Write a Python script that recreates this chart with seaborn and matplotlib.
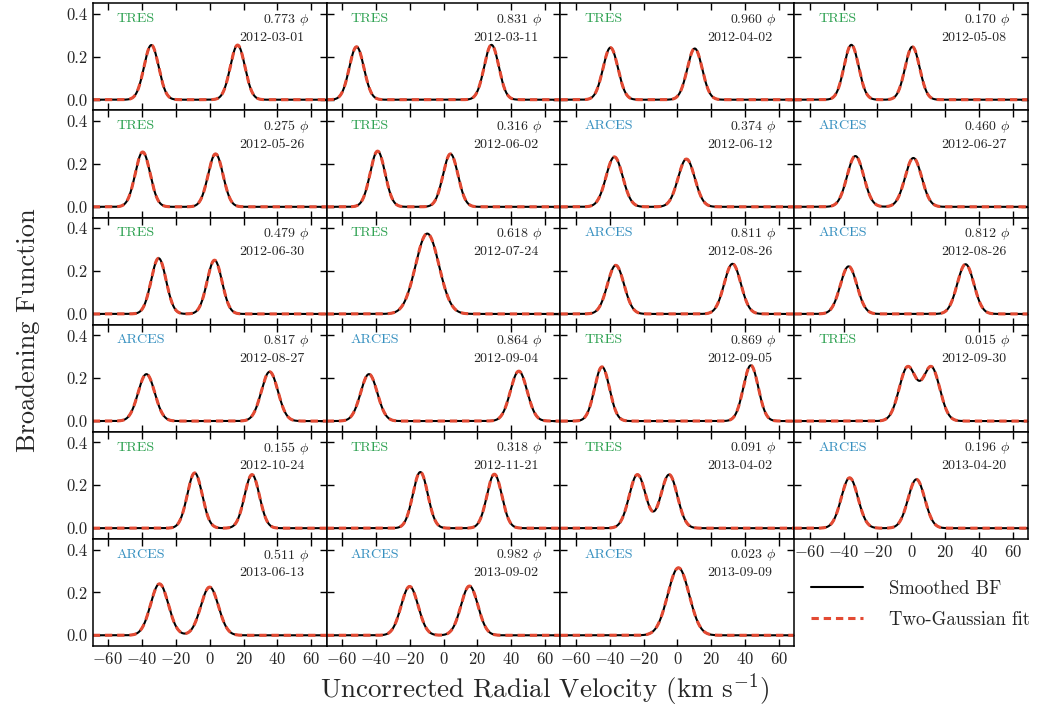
import numpy as np
import pandas as pd
import matplotlib
matplotlib.use("Agg")
import matplotlib.pyplot as plt
import seaborn as sns
from matplotlib.lines import Line2D

# ---------------- data ----------------
dates = ["2012-03-01", "2012-03-11", "2012-04-02", "2012-05-08",
         "2012-05-26", "2012-06-02", "2012-06-12", "2012-06-27",
         "2012-06-30", "2012-07-24", "2012-08-26", "2012-08-26",
         "2012-08-27", "2012-09-04", "2012-09-05", "2012-09-30",
         "2012-10-24", "2012-11-21", "2013-04-02", "2013-04-20",
         "2013-06-13", "2013-09-02", "2013-09-09"]
instruments = ["TRES", "TRES", "TRES", "TRES",
               "TRES", "TRES", "ARCES", "ARCES",
               "TRES", "TRES", "ARCES", "ARCES",
               "ARCES", "ARCES", "TRES", "TRES",
               "TRES", "TRES", "TRES", "ARCES",
               "ARCES", "ARCES", "ARCES"]
phases = ["0.773", "0.831", "0.960", "0.170",
          "0.275", "0.316", "0.374", "0.460",
          "0.479", "0.618", "0.811", "0.812",
          "0.817", "0.864", "0.869", "0.015",
          "0.155", "0.318", "0.091", "0.196",
          "0.511", "0.982", "0.023"]
rv1 = [-34.4, -51.3, -39.5, -35.4,
       -39.5, -38.9, -37.2, -33.0,
       -30.1, -9.6, -36.4, -37.0,
       -37.3, -44.0, -44.5, -2.2,
       -8.8, -13.7, -23.6, -36.4,
       -29.6, -20.0, 0.6]
rv2 = [16.5, 28.3, 10.2, 0.6,
       3.5, 4.1, 5.3, 1.2,
       2.9, -9.6, 32.5, 32.0,
       35.4, 44.4, 43.3, 11.8,
       25.0, 30.0, -4.9, 3.0,
       0.0, 15.3, 0.6]
amp1 = [0.255, 0.247, 0.243, 0.256,
        0.256, 0.260, 0.233, 0.237,
        0.260, 0.190, 0.227, 0.222,
        0.219, 0.219, 0.253, 0.250,
        0.258, 0.262, 0.250, 0.235,
        0.240, 0.228, 0.160]
amp2 = [0.255, 0.256, 0.239, 0.247,
        0.247, 0.247, 0.223, 0.228,
        0.251, 0.185, 0.234, 0.232,
        0.230, 0.233, 0.260, 0.250,
        0.250, 0.252, 0.250, 0.228,
        0.225, 0.230, 0.155]
sigma = [4.3, 4.3, 4.4, 4.3,
         4.4, 4.4, 4.9, 4.9,
         4.4, 6.9, 4.9, 4.9,
         4.9, 4.9, 4.4, 5.0,
         4.4, 4.4, 4.85, 4.9,
         5.2, 5.0, 6.3]

inst_colors = {"TRES": "#31a354", "ARCES": "#3690c0"}
fit_color = "#e34a33"

# ---------------- style ----------------
sns.set_theme(style="ticks")
plt.rcParams.update({
    "font.family": ["cmr10", "DejaVu Serif"],
    "mathtext.fontset": "cm",
    "axes.formatter.use_mathtext": True,
    "axes.edgecolor": "black",
    "axes.linewidth": 1.1,
    "xtick.color": "black",
    "ytick.color": "black",
    "xtick.labelcolor": "0.15",
    "ytick.labelcolor": "0.15",
    "xtick.direction": "in",
    "ytick.direction": "in",
    "xtick.major.size": 5,
    "ytick.major.size": 5,
    "xtick.major.width": 1.0,
    "ytick.major.width": 1.0,
    "xtick.labelsize": 12,
    "ytick.labelsize": 12,
})

fig = plt.figure(figsize=(10.45, 7.15), dpi=100)
gs = fig.add_gridspec(6, 4, left=0.0887, right=0.984, top=0.9954,
                      bottom=0.0965, hspace=0, wspace=0)

vel = np.linspace(-69, 69, 700)

for i in range(24):
    r, c = divmod(i, 4)
    ax = fig.add_subplot(gs[r, c])
    if i == 23:
        ax.axis("off")
        handles = [Line2D([], [], color="black", lw=1.5),
                   Line2D([], [], color=fit_color, lw=2.2, ls=(0, (2.4, 1.6)))]
        fig.legend(handles, ["Smoothed BF", "Two-Gaussian fit"],
                   loc="center left", bbox_to_anchor=(0.776, 0.1545),
                   frameon=False, fontsize=13.5, handlelength=2.8,
                   handletextpad=1.35, labelspacing=0.7, borderpad=0,
                   borderaxespad=0)
        continue
    model = (amp1[i] * np.exp(-0.5 * ((vel - rv1[i]) / sigma[i]) ** 2)
             + amp2[i] * np.exp(-0.5 * ((vel - rv2[i]) / sigma[i]) ** 2))
    df = pd.DataFrame({"v": vel, "bf": model})
    sns.lineplot(data=df, x="v", y="bf", ax=ax, color="black", lw=1.5)
    sns.lineplot(data=df, x="v", y="bf", ax=ax, color=fit_color, lw=2.2,
                 dashes=False, linestyle=(0, (2.4, 1.6)))
    ax.set_xlim(-69, 69)
    ax.set_ylim(-0.05, 0.45)
    ax.set_xticks([-60, -40, -20, 0, 20, 40, 60])
    ax.set_yticks([0.0, 0.2, 0.4])
    ax.yaxis.set_major_formatter(matplotlib.ticker.FormatStrFormatter("%.1f"))
    ax.tick_params(top=True, right=True, bottom=True, left=True)
    ax.set_xlabel("")
    ax.set_ylabel("")
    if c != 0:
        ax.set_yticklabels([])
    if not (r == 5 or i == 19):
        ax.set_xticklabels([])
    ax.text(0.103, 0.853, instruments[i], transform=ax.transAxes,
            ha="left", va="center", fontsize=10.2,
            color=inst_colors[instruments[i]])
    ax.text(0.924, 0.848, phases[i] + r" $\phi$", transform=ax.transAxes,
            ha="right", va="center", fontsize=10, color="0.15")
    ax.text(0.906, 0.68, dates[i], transform=ax.transAxes,
            ha="right", va="center", fontsize=10, color="0.15")

fig.text(0.5215, 0.035, r"Uncorrected Radial Velocity (km s$^{-1}$)",
         ha="center", va="center", fontsize=19.5)
fig.text(0.027, 0.538, "Broadening Function", ha="center", va="center",
         rotation=90, fontsize=19)

fig.savefig("out.png", dpi=100)
